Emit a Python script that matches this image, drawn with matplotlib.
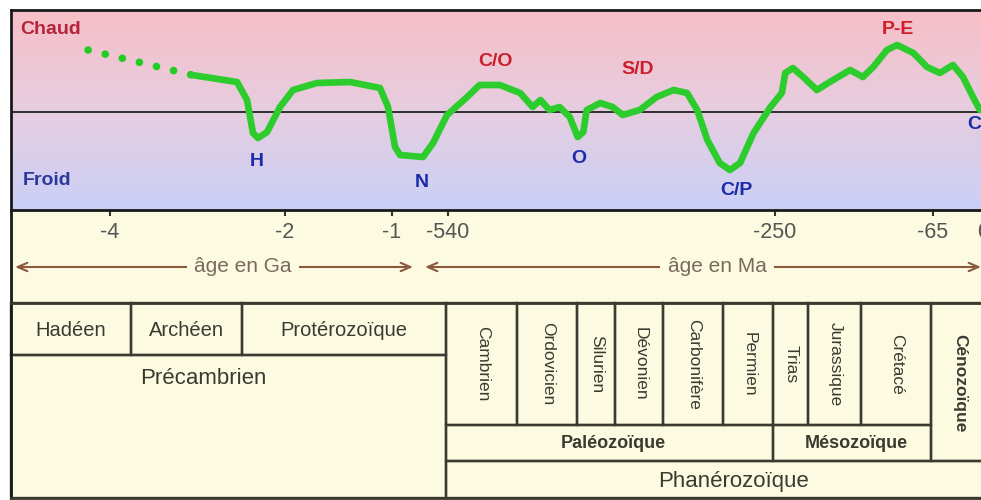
import numpy as np
import matplotlib.pyplot as plt
from matplotlib.patches import Rectangle
from matplotlib.colors import LinearSegmentedColormap

plt.rcParams['font.family'] = ['Liberation Sans', 'DejaVu Sans']

# --- data -------------------------------------------------------------
# relative temperature (0 = today's mean line), age in Ma
dot_age = [-4250, -3063]
dot_temp = [6.2, 3.7]

age = [-3063, -2548, -2434, -2366, -2308, -2205, -2057, -1925, -1701, -1392,
       -1112, -1037, -975, -934, -745, -663, -548,
       -523, -512, -494, -476, -465, -458, -450, -441, -432, -425, -420,
       -417, -405, -394, -385, -370, -355, -340, -328, -319, -310, -299,
       -290, -281, -269, -254, -242, -238, -229, -217, -201, -182, -162,
       -147, -135, -119, -107, -88, -72, -56, -39, -26, -13, -4]
temp = [3.7, 3.0, 1.2, -2.1, -2.6, -2.0, 0.5, 2.2, 2.9, 3.0,
        2.4, 0.5, -3.5, -4.3, -4.5, -3.1, -0.3,
        1.5, 2.7, 2.7, 1.9, 0.5, 1.2, 0.2, 0.5, -0.5, -2.5, -2.0,
        0.2, 0.9, 0.5, -0.3, 0.2, 1.5, 2.2, 1.9, 0.2, -2.8, -5.1,
        -5.8, -5.1, -2.1, 0.5, 1.9, 3.9, 4.4, 3.5, 2.2, 3.2, 4.2,
        3.5, 4.5, 6.2, 6.7, 5.9, 4.5, 3.9, 4.7, 3.5, 1.5, 0.2]

warm_lbl = ['C/O', 'S/D', 'P-E']
warm_age = [-498, -372, -106]
warm_temp = [5.0, 4.2, 8.2]
cold_lbl = ['H', 'N', 'O', 'C/P', 'C']
cold_age = [-2320, -754, -424, -284, -20]
cold_temp = [-5.0, -7.1, -4.7, -7.9, -1.3]

tick_age = [-4000, -2000, -1000, -540, -250, -65, 0]
tick_lbl = ['-4', '-2', '-1', '-540', '-250', '-65', '0']

pre_names = ['Hadéen', 'Archéen', 'Protérozoïque']
period_names = ['Cambrien', 'Ordovicien', 'Silurien', 'Dévonien', 'Carbonifère',
                'Permien', 'Trias', 'Jurassique', 'Crétacé']
era_names = ['Paléozoïque', 'Mésozoïque']

# --- layout (pixels) ---------------------------------------------------
W, H = 981, 500
scale_t = [-5130, -4000, -2000, -1000, -540, -250, -65, 0, 26]
scale_p = [11, 110, 285, 392, 448, 775, 933, 983, 1003]
pre_edges = [11, 131, 242, 446]
period_edges = [446, 517, 577, 615, 663, 723, 773, 808, 861, 931]
era_edges = [446, 773, 931]

cream = '#fcfbe2'
ink = '#3a3a30'
red = '#cc1f2a'
blue = '#1a2ca8'


def px_box(x0, y0, x1, y1):
    return [x0 / W, 1 - y1 / H, (x1 - x0) / W, (y1 - y0) / H]


fig = plt.figure(figsize=(9.81, 5.0), dpi=100)

base = fig.add_axes([0, 0, 1, 1])
base.set_xlim(0, W)
base.set_ylim(H, 0)
base.axis('off')
base.add_patch(Rectangle((11, 210), W, 290, fc=cream, ec='none'))

# climate panel with the broken time scale
ax = fig.add_axes(px_box(11, 10, 1003, 210))
ax.set_xscale('function', functions=(lambda t: np.interp(t, scale_t, scale_p),
                                     lambda p: np.interp(p, scale_p, scale_t)))
ax.set_xlim(scale_t[0], scale_t[-1])
ax.set_ylim(-9.8, 10.2)

grad = LinearSegmentedColormap.from_list('hc', ['#cbd0f7', '#e6cde0', '#f7bfc7'])
ax.imshow(np.linspace(0, 1, 256).reshape(-1, 1), cmap=grad, origin='lower',
          extent=[0, 1, 0, 1], transform=ax.transAxes, aspect='auto', zorder=0)

ax.axhline(0, color='#222222', lw=1.3, zorder=1)
ax.plot(dot_age, dot_temp, color='#22cc22', lw=5.5, linestyle=(0, (0.01, 2.29)),
        dash_capstyle='round', zorder=2)
ax.plot(age, temp, color='#2ccc2c', lw=4.8, solid_joinstyle='round',
        solid_capstyle='round', zorder=2)

for s, a, v in zip(warm_lbl, warm_age, warm_temp):
    ax.text(a, v, s, color=red, fontsize=14, fontweight='bold', ha='center', va='center')
for s, a, v in zip(cold_lbl, cold_age, cold_temp):
    ax.text(a, v, s, color=blue, fontsize=14, fontweight='bold',
            ha='left' if s == 'C' else 'center', va='center')

ax.text(0.009, 0.9, 'Chaud', transform=ax.transAxes, color='#b5243a', fontsize=14,
        fontweight='bold', va='center')
ax.text(0.012, 0.145, 'Froid', transform=ax.transAxes, color='#2b3a9a', fontsize=14,
        fontweight='bold', va='center')

ax.set_xticks(tick_age, tick_lbl)
ax.set_yticks([])
ax.tick_params(axis='x', direction='out', length=4, width=1.5, color='#333333',
               pad=5, labelsize=15.5, labelcolor='#555555')
for side in ['top', 'left', 'bottom']:
    ax.spines[side].set_linewidth(2)
    ax.spines[side].set_color('#1a1a1a')
ax.spines['right'].set_visible(False)

# age arrows
arrow_kw = dict(arrowstyle='<->,head_length=0.7,head_width=0.3', color='#8b5a3c',
                lw=1.5, shrinkA=0, shrinkB=0)
base.annotate('', xy=(15, 267), xytext=(413, 267), arrowprops=arrow_kw)
base.annotate('', xy=(425, 267), xytext=(981, 267), arrowprops=arrow_kw)
for x, s in [(243, 'âge en Ga'), (717, 'âge en Ma')]:
    base.text(x, 266, s, ha='center', va='center', fontsize=15, color='#7a6a5a',
              bbox=dict(boxstyle='square,pad=0.35', fc=cream, ec='none'))

# frame and table
lw = 1.7
base.plot([11, 11], [210, 498], color='#1a1a1a', lw=2)
base.plot([11, W], [498, 498], color=ink, lw=2)
base.plot([11, W], [303, 303], color=ink, lw=2)


def cell(x0, x1, y0, y1):
    base.add_patch(Rectangle((x0, y0), x1 - x0, y1 - y0, fill=False, ec=ink, lw=lw))


for i, name in enumerate(pre_names):
    x0, x1 = pre_edges[i], pre_edges[i + 1]
    cell(x0, x1, 303, 355)
    base.text((x0 + x1) / 2, 330, name, ha='center', va='center', fontsize=14.5, color=ink)
cell(11, 446, 355, 498)
base.text(203, 379, 'Précambrien', ha='center', va='center', fontsize=16, color=ink)

for i, name in enumerate(period_names):
    x0, x1 = period_edges[i], period_edges[i + 1]
    cell(x0, x1, 303, 425)
    base.text((x0 + x1) / 2 + 1, 364, name, ha='center', va='center', rotation=-90,
              fontsize=12.5, color=ink)
for i, name in enumerate(era_names):
    x0, x1 = era_edges[i], era_edges[i + 1]
    cell(x0, x1, 425, 461)
    base.text((x0 + x1) / 2 + 4, 443, name, ha='center', va='center',
              fontsize=13, fontweight='bold', color=ink)
cell(931, 1010, 303, 461)
base.text(960, 383, 'Cénozoïque', ha='center', va='center', rotation=-90,
          fontsize=12.5, fontweight='bold', color=ink)
cell(446, 1010, 461, 498)
base.text(734, 481, 'Phanérozoïque', ha='center', va='center', fontsize=16, color=ink)

fig.savefig('out.png', dpi=100, facecolor='white')
